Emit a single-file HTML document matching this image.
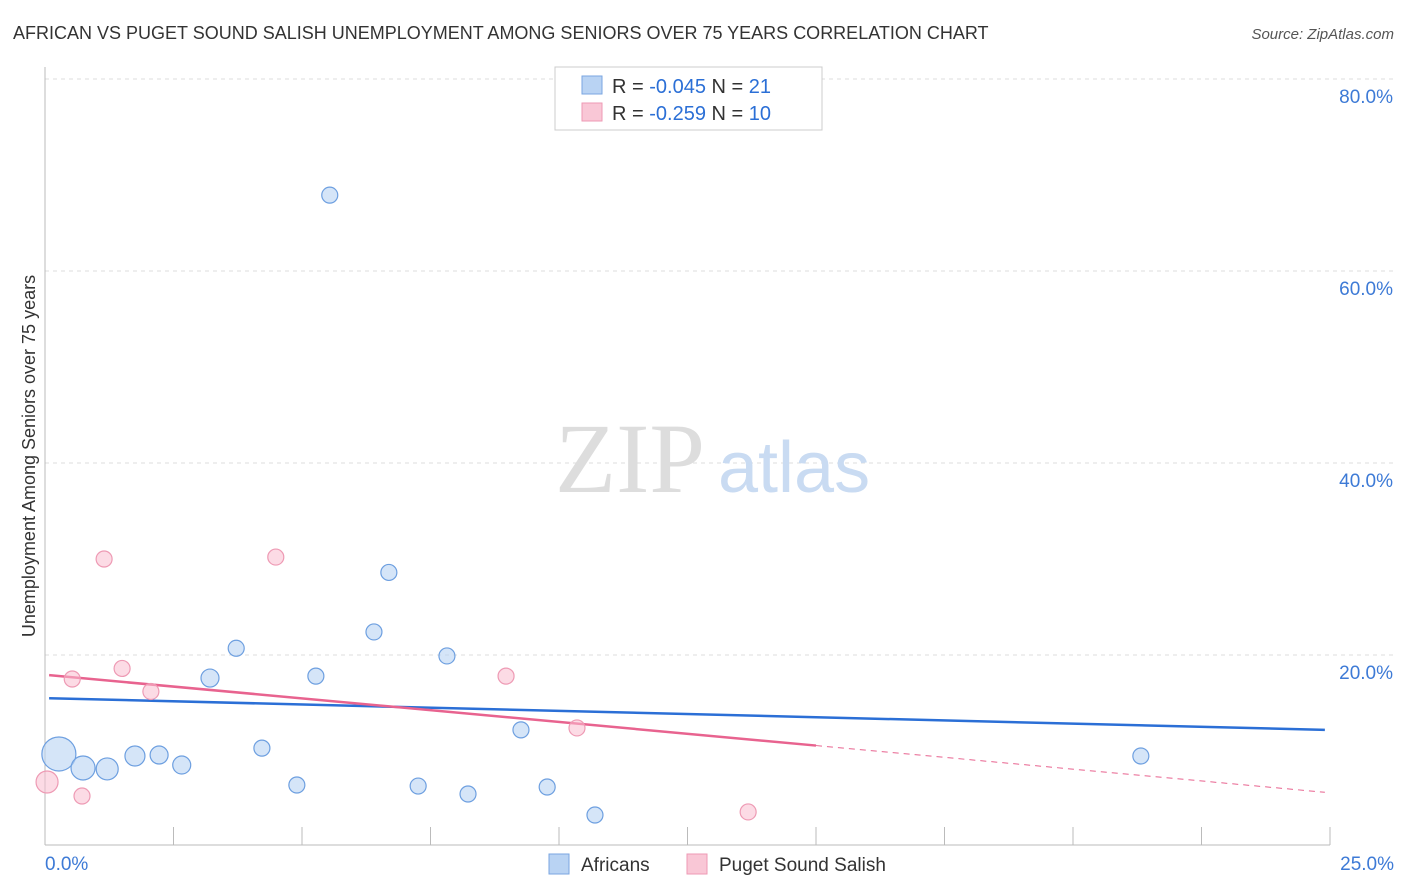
<!DOCTYPE html>
<html><head><meta charset="utf-8"><style>
body{margin:0;background:#fff;font-family:"Liberation Sans",sans-serif;}
svg{display:block}
</style></head><body>
<svg id="chart" width="1406" height="892">
<text x="13" y="39" font-size="18" fill="#333">AFRICAN VS PUGET SOUND SALISH UNEMPLOYMENT AMONG SENIORS OVER 75 YEARS CORRELATION CHART</text>
<text x="1394" y="39" font-size="15" fill="#555" font-style="italic" text-anchor="end">Source: ZipAtlas.com</text>
<text x="35" y="456" font-size="18" fill="#333" text-anchor="middle" transform="rotate(-90 35 456)">Unemployment Among Seniors over 75 years</text>
<g id="grid"></g>
<g id="xticks"></g>
<text x="555" y="492" font-size="100" fill="#ddd" font-family="Liberation Serif,serif">ZIP</text>
<text x="718" y="492" font-size="72" fill="#c9dbf2">atlas</text>
<g id="lines"></g>
<g id="points"></g>
<g>
<rect x="555" y="67" width="267" height="63" fill="#fff" stroke="#ccc"/>
<rect x="582" y="76" width="20" height="18" fill="#b9d3f3" stroke="#7aa6e0"/>
<rect x="582" y="103" width="20" height="18" fill="#f9c7d6" stroke="#ee9ab4"/>
<text x="612" y="93" font-size="20" fill="#333">R = <tspan fill="#2b6fd6">-0.045</tspan>   N = <tspan fill="#2b6fd6">21</tspan></text>
<text x="612" y="120" font-size="20" fill="#333">R = <tspan fill="#2b6fd6"> -0.259</tspan>   N = <tspan fill="#2b6fd6">10</tspan></text>
</g>
<g>
<rect x="549" y="854" width="20" height="20" fill="#b9d3f3" stroke="#7aa6e0"/>
<text x="581" y="871" font-size="19" fill="#333">Africans</text>
<rect x="687" y="854" width="20" height="20" fill="#f9c7d6" stroke="#ee9ab4"/>
<text x="719" y="871" font-size="19" fill="#333">Puget Sound Salish</text>
</g>
</svg>
<script>
const blueX=[0.27,0.74,1.21,1.75,2.22,2.66,3.21,3.72,4.22,4.90,5.27,5.54,6.40,6.69,7.26,7.82,8.23,9.26,9.77,10.70,21.32];
const blueY=[9.69,8.23,8.13,9.48,9.58,8.54,17.6,20.7,10.3,6.46,17.8,67.9,22.4,28.6,6.35,19.9,5.52,12.2,6.25,3.33,9.48];
const blueSize=[17,12,11,10,9,9,9,8,8,8,8,8,8,8,8,8,8,8,8,8,8];
const pinkX=[0.04,0.53,0.72,1.15,1.50,2.06,4.49,8.97,10.35,13.68];
const pinkY=[6.77,17.5,5.31,30.0,18.6,16.2,30.2,17.8,12.4,3.65];
const pinkSize=[11,8,8,8,8,8,8,8,8,8];
const blueTrend=[15.5,12.2];
const pinkTrend=[17.9,5.7];
const yTicks=[20,40,60,80];
const xTicks=[0,2.5,5,7.5,10,12.5,15,17.5,20,22.5,25];
const NS="http://www.w3.org/2000/svg";
const sx=v=>45+v/25*1285, sy=v=>847-v/20*192;
function mk(tag,attrs,parent){const e=document.createElementNS(NS,tag);for(const k in attrs)e.setAttribute(k,attrs[k]);document.getElementById(parent).appendChild(e);return e;}
yTicks.forEach(t=>{
 const l=mk('line',{x1:45,x2:1394,y1:sy(t),y2:sy(t),stroke:'#ddd','stroke-dasharray':'4 4'},'grid');
 
 
 const tx=mk('text',{x:1393,y:sy(t)+24,'font-size':19,fill:'#3d7ad6','text-anchor':'end'},'grid');
 tx.textContent=t.toFixed(1)+'%';
 
 
});
const ax=mk('line',{x1:45,x2:1330,y1:845,y2:845,stroke:'#bbb'},'grid');


const ay=mk('line',{x1:45,x2:45,y1:67,y2:845,stroke:'#bbb'},'grid');


xTicks.forEach(t=>{
 const l=mk('line',{x1:sx(t),x2:sx(t),y1:827,y2:845,stroke:'#bbb'},'xticks');
 
 
});
[[0,'start',45],[25,'end',1394]].forEach(([t,a,x])=>{
 const tx=mk('text',{x:x,y:870,'font-size':19,fill:'#3d7ad6','text-anchor':a},'xticks');
 tx.textContent=t.toFixed(1)+'%';
 
 
});
function yAt(tr,x){return tr[0]+(tr[1]-tr[0])*(x-0.08)/(24.9-0.08);}
const bl=mk('line',{x1:sx(0.08),y1:sy(yAt(blueTrend,0.08)),x2:sx(24.9),y2:sy(yAt(blueTrend,24.9)),stroke:'#2b6fd6','stroke-width':2.5},'lines');


const ps=mk('line',{x1:sx(0.08),y1:sy(yAt(pinkTrend,0.08)),x2:sx(15),y2:sy(yAt(pinkTrend,15)),stroke:'#e8638f','stroke-width':2.5},'lines');


const pd=mk('line',{x1:sx(15),y1:sy(yAt(pinkTrend,15)),x2:sx(24.9),y2:sy(yAt(pinkTrend,24.9)),stroke:'#e8638f','stroke-width':1,'stroke-dasharray':'6 5'},'lines');


pinkX.forEach((x,i)=>{
 const c=mk('circle',{cx:sx(x),cy:sy(pinkY[i]),r:pinkSize[i],fill:'rgba(249,190,208,0.55)',stroke:'#ee9ab4','stroke-width':1.2},'points');
 
 
});
blueX.forEach((x,i)=>{
 const c=mk('circle',{cx:sx(x),cy:sy(blueY[i]),r:blueSize[i],fill:'rgba(185,211,243,0.6)',stroke:'#6d9fe0','stroke-width':1.2},'points');
 
 
});
</script>
</body></html>
